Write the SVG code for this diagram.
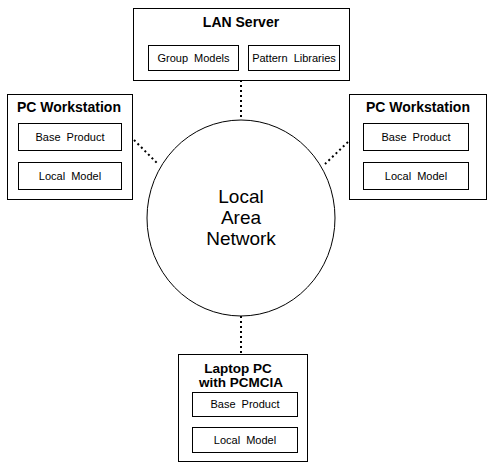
<svg xmlns="http://www.w3.org/2000/svg" width="491" height="470" viewBox="0 0 491 470">
<style>
.box{fill:#fff;stroke:#000;stroke-width:1}
.t{font-family:"Liberation Sans",Arial,sans-serif;font-weight:bold;font-size:14px;text-anchor:middle}
.l{font-family:"Liberation Sans",Arial,sans-serif;font-size:11px;word-spacing:3px;text-anchor:middle}
.c{font-family:"Liberation Sans",Arial,sans-serif;font-size:19px;text-anchor:middle}
.dot{stroke:#000;stroke-width:2;stroke-dasharray:2 3;fill:none}
</style>
<rect width="491" height="470" fill="#fff"/>
<g id="connectors">
<line class="dot" x1="241" y1="80" x2="241" y2="119"/>
<line class="dot" x1="134" y1="140" x2="157" y2="163"/>
<line class="dot" x1="348" y1="142" x2="325" y2="164"/>
<line class="dot" x1="241" y1="316" x2="241" y2="354"/>
</g>
<g id="lan">
<ellipse class="box" cx="241" cy="218" rx="94" ry="98"/>
<text class="c" x="241" y="203">Local</text>
<text class="c" x="241" y="224">Area</text>
<text class="c" x="241" y="245">Network</text>
</g>
<g id="server">
<rect class="box" x="133.500" y="8.500" width="216" height="72"/>
<text class="t" x="241" y="27">LAN Server</text>
<rect class="box" x="148.500" y="45.500" width="90" height="25"/>
<text class="l" x="193.500" y="62">Group Models</text>
<rect class="box" x="248.500" y="45.500" width="91" height="25"/>
<text class="l" x="294" y="62">Pattern Libraries</text>
</g>
<g id="pc-left">
<rect class="box" x="7.500" y="94.500" width="125" height="105"/>
<text class="t" x="69" y="112">PC Workstation</text>
<rect class="box" x="18.500" y="123.500" width="103" height="27"/>
<text class="l" x="70" y="141">Base Product</text>
<rect class="box" x="18.500" y="162.500" width="103" height="27"/>
<text class="l" x="70" y="180">Local Model</text>
</g>
<g id="pc-right">
<rect class="box" x="349.500" y="94.500" width="137" height="105"/>
<text class="t" x="418" y="112">PC Workstation</text>
<rect class="box" x="363.500" y="123.500" width="105" height="27"/>
<text class="l" x="416" y="141">Base Product</text>
<rect class="box" x="363.500" y="162.500" width="105" height="27"/>
<text class="l" x="416" y="180">Local Model</text>
</g>
<g id="laptop">
<rect class="box" x="178.500" y="354.500" width="129" height="107"/>
<text class="t" x="238" y="373" style="font-size:13.500px">Laptop PC</text>
<text class="t" x="241" y="387" style="font-size:13.500px">with PCMCIA</text>
<rect class="box" x="192.500" y="392.500" width="105" height="24"/>
<text class="l" x="245" y="408">Base Product</text>
<rect class="box" x="192.500" y="427.500" width="105" height="25"/>
<text class="l" x="245" y="444">Local Model</text>
</g>
</svg>
